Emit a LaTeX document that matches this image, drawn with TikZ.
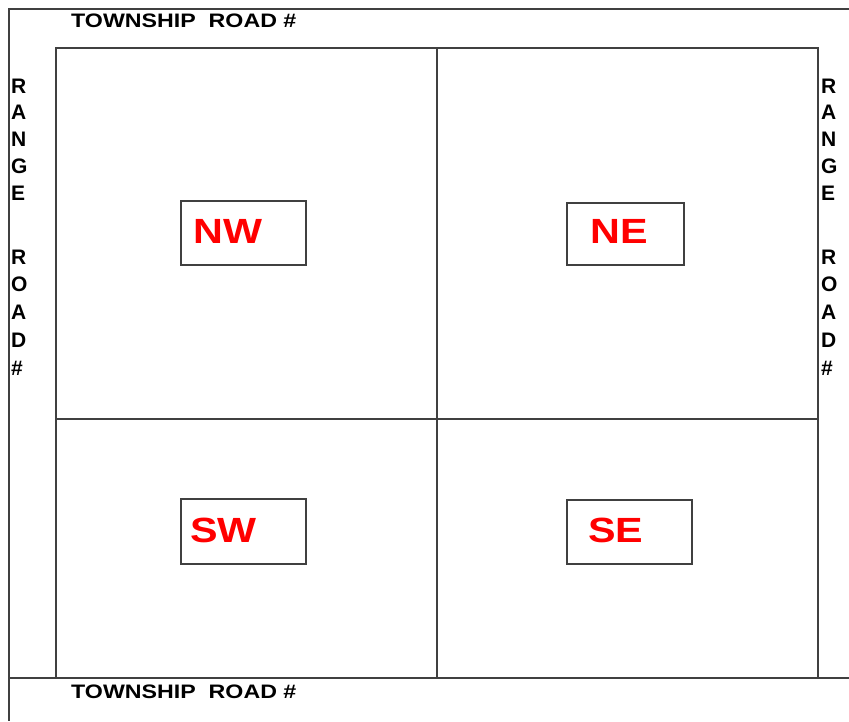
\documentclass[tikz,border=0pt]{standalone}
\usepackage{fontspec}
\setmainfont{Liberation Sans}

\tikzset{
    roadline/.style={draw=black!75, line width=1.3pt},
    quarterbox/.style={draw=black!75, line width=1.3pt, rectangle, inner sep=0pt},
    quarterlabel/.style={red, anchor=base west, inner sep=0pt, font=\bfseries\fontsize{35}{35}\selectfont},
    roadlabel/.style={anchor=base west, inner sep=0pt, font=\bfseries\fontsize{19.5}{19.5}\selectfont},
    rangeletter/.style={anchor=west, inner sep=0pt, font=\bfseries\fontsize{21}{21}\selectfont}
}

\begin{document}
\begin{tikzpicture}[x=1pt, y=-1pt]
    \useasboundingbox (0,0) rectangle (849,721);

    % road lines
    \draw[roadline] (849,9) -- (9,9) -- (9,721);
    \draw[roadline] (9,678) -- (849,678);

    % section and quarters
    \draw[roadline] (56,48) rectangle (818,678);
    \draw[roadline] (437,48) -- (437,678);
    \draw[roadline] (56,419) -- (818,419);

    \node[roadlabel] (toproad) at (71,27) {\scalebox{1.19}[1]{TOWNSHIP\ \ ROAD \#}};
    \node[roadlabel] (bottomroad) at (71,698) {\scalebox{1.19}[1]{TOWNSHIP\ \ ROAD \#}};

    \foreach \ch [count=\i] in {R,A,N,G,E} {
        \node[rangeletter] (leftrange\i) at (11, {86 + (\i-1)*26.75}) {\ch};
        \node[rangeletter] (rightrange\i) at (821, {86 + (\i-1)*26.75}) {\ch};
    }
    \foreach \ch [count=\i] in {R,O,A,D,\#} {
        \node[rangeletter] (leftroad\i) at (11, {257 + (\i-1)*27.75}) {\ch};
        \node[rangeletter] (rightroad\i) at (821, {257 + (\i-1)*27.75}) {\ch};
    }

    \node[quarterbox, minimum width=125pt, minimum height=64pt] (nwbox) at (243.5,233) {};
    \node[quarterbox, minimum width=117pt, minimum height=62pt] (nebox) at (625.5,234) {};
    \node[quarterbox, minimum width=125pt, minimum height=65pt] (swbox) at (243.5,531.5) {};
    \node[quarterbox, minimum width=125pt, minimum height=64pt] (sebox) at (629.5,532) {};

    \node[quarterlabel] (nw) at (193,243) {\scalebox{1.18}[1]{NW}};
    \node[quarterlabel] (ne) at (590,243) {\scalebox{1.18}[1]{NE}};
    \node[quarterlabel] (sw) at (190,542) {\scalebox{1.18}[1]{SW}};
    \node[quarterlabel] (se) at (588,542) {\scalebox{1.18}[1]{SE}};
\end{tikzpicture}
\end{document}
